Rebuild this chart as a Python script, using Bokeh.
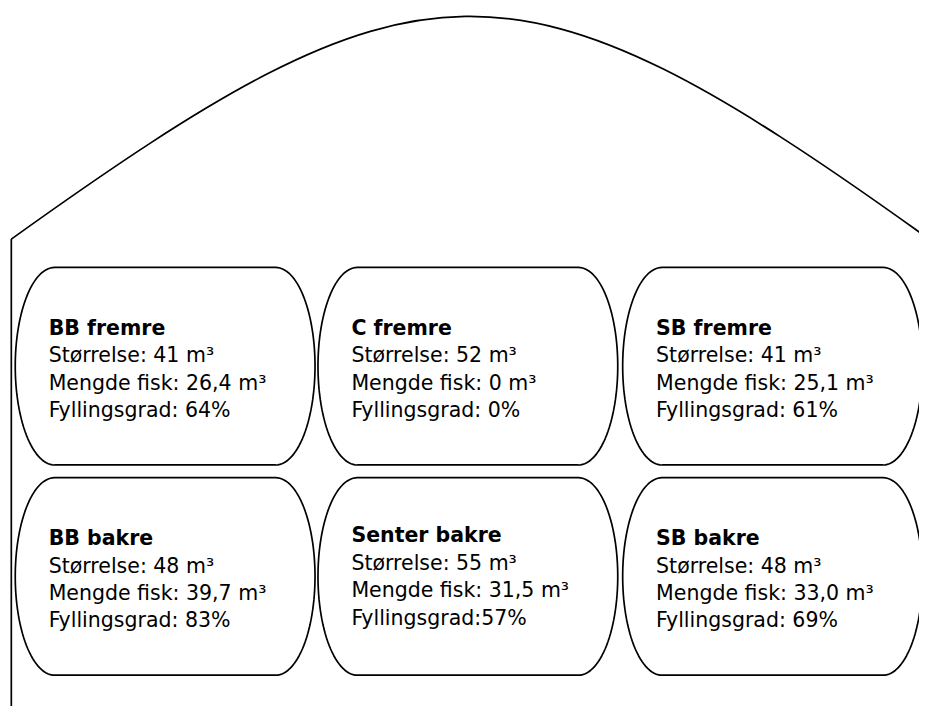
import numpy as np
from bokeh.plotting import figure
from bokeh.models import Range1d, ColumnDataSource
from bokeh.core.properties import value
from bokeh.embed import file_html
from bokeh.resources import INLINE

# ---------------- data ----------------
tank_names = ["BB fremre", "C fremre", "SB fremre", "BB bakre", "Senter bakre", "SB bakre"]
tank_size_m3 = [41, 52, 41, 48, 55, 48]
fish_m3 = [26.4, 0, 25.1, 39.7, 31.5, 33.0]
fill_pct = [64, 0, 61, 83, 57, 69]
fill_sep = [" ", " ", " ", " ", "", " "]   # "Fyllingsgrad:57%" has no space in the original

# ---------------- layout (drawing units = reference pixels) ----------------
W, H = 919, 706          # figure size fitting the window with its 8px margin
DW, DH = 935, 722        # drawing extent
col_left = [15, 323, 633]
row_top = [273, 488]
tank_w, tank_h, cap = 305, 202, 40
text_dx, title_dy, line_gap = 34, 62, 28
title_shift = {"Senter bakre": -3}
FONT = value("DejaVu Sans")
FSIZE = value("20.5px")
LW = 1.7

hull_start = (11, 244)
hull_end = (935, 237)
hull_c0 = (426, -55)
hull_c1 = (520, -62)

p = figure(width=W, height=H,
           x_range=Range1d(0, DW), y_range=Range1d(DH, 0),
           x_axis_type=None, y_axis_type=None,
           toolbar_location=None, output_backend="svg",
           min_border=0, outline_line_color=None)
p.background_fill_color = "white"
p.border_fill_color = "white"

# hull outline
p.bezier(x0=[hull_start[0]], y0=[hull_start[1]], x1=[hull_end[0]], y1=[hull_end[1]],
         cx0=[hull_c0[0]], cy0=[hull_c0[1]], cx1=[hull_c1[0]], cy1=[hull_c1[1]],
         line_color="black", line_width=LW)
p.segment(x0=[hull_start[0]], y0=[hull_start[1]], x1=[hull_start[0]], y1=[DH + 20],
          line_color="black", line_width=LW)

# tanks
xs, ys = [], []
tx, ty_title, titles = [], [], []
lx, ly, lines = [], [], []
for i, name in enumerate(tank_names):
    L = col_left[i % 3]
    T = row_top[i // 3]
    R, B = L + tank_w, T + tank_h
    cy, b = (T + B) / 2, tank_h / 2
    th_r = np.linspace(-np.pi / 2, np.pi / 2, 60)
    th_l = np.linspace(np.pi / 2, 3 * np.pi / 2, 60)
    px = np.concatenate([R - cap + cap * np.cos(th_r), L + cap + cap * np.cos(th_l)])
    py = np.concatenate([cy + b * np.sin(th_r), cy + b * np.sin(th_l)])
    xs.append(list(px))
    ys.append(list(py))

    x0 = L + text_dx
    y0 = T + title_dy + title_shift.get(name, 0)
    tx.append(x0)
    ty_title.append(y0)
    titles.append(name)
    fish_txt = ("%.1f" % fish_m3[i]).replace(".", ",") if fish_m3[i] else "0"
    body = [
        "Størrelse: %d m³" % tank_size_m3[i],
        "Mengde fisk: %s m³" % fish_txt,
        "Fyllingsgrad:%s%d%%" % (fill_sep[i], fill_pct[i]),
    ]
    for k, t in enumerate(body):
        lx.append(x0)
        ly.append(y0 + line_gap * (k + 1))
        lines.append(t)

p.patches(xs=xs, ys=ys, fill_color="white", line_color="black", line_width=LW)

p.text(x="x", y="y", text="text",
       source=ColumnDataSource(dict(x=tx, y=ty_title, text=titles)),
       text_font=FONT, text_font_size=FSIZE, text_font_style="bold",
       text_color="black", text_align="left", text_baseline="alphabetic")
p.text(x="x", y="y", text="text",
       source=ColumnDataSource(dict(x=lx, y=ly, text=lines)),
       text_font=FONT, text_font_size=FSIZE,
       text_color="black", text_align="left", text_baseline="alphabetic")

open("out.html", "w").write(file_html(p, INLINE))
